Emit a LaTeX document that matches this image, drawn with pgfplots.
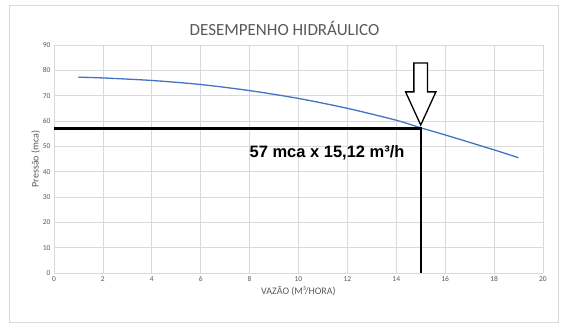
\documentclass[border=0pt]{standalone}
\usepackage{fontspec}
\setmainfont{Carlito}
\newfontfamily\arial{Liberation Sans}
\usepackage{pgfplots}
\pgfplotsset{compat=1.18}
\definecolor{curveblue}{RGB}{68,114,196}
\definecolor{gridgray}{RGB}{217,217,217}
\definecolor{txtgray}{RGB}{89,89,89}
\begin{document}
\begin{tikzpicture}
\begin{axis}[
  scale only axis,
  width=489pt, height=228pt,
  xmin=0, xmax=20, ymin=0, ymax=90,
  xtick={0,2,...,20}, ytick={0,10,...,90},
  grid=major,
  major grid style={gridgray, line width=0.6pt},
  axis line style={draw=none},
  x axis line style={draw=gridgray},
  tick style={draw=none},
  ticklabel style={font=\fontsize{7.5}{9}\selectfont, text=txtgray},
  /pgf/number format/assume math mode=true,
  xlabel={VAZÃO (M³/HORA)},
  ylabel={Pressão (mca)},
  label style={font=\fontsize{10}{12}\selectfont, text=txtgray},
  xlabel style={yshift=2pt},
  ylabel style={yshift=-4pt},
  title={DESEMPENHO HIDRÁULICO},
  title style={font=\fontsize{17}{19}\selectfont, text=txtgray, xshift=-14pt},
  clip=false,
]
\path[draw=gridgray, line width=0.6pt] (rel axis cs:-0.092,-0.215) rectangle (rel axis cs:1.031,1.176);
\path (rel axis cs:-0.1104,-0.2368) rectangle (rel axis cs:1.0491,1.1974);
\addplot[curveblue, line width=1.3pt, smooth] coordinates {
 (1,77.3) (2,77.0) (4,76.0) (6,74.4) (8,72.0) (10,68.9) (12,65.0) (14,60.3) (15,57.3) (16,54.5) (18,48.6) (19,45.5)};
\addplot[black, line width=2.4pt] coordinates {(0,57) (15,57) (15,0)};
\addplot[draw=black, fill=white, line width=1.3pt] coordinates {
 (14.72,82.9) (15.28,82.9) (15.28,71.5) (15.62,71.5) (15,58.4) (14.38,71.5) (14.72,71.5)} -- cycle;
\node[font=\arial\bfseries\fontsize{16.5}{18}\selectfont, text=black] at (axis cs:11.17,47.3) {57 mca x 15,12 m³/h};
\end{axis}
\end{tikzpicture}
\end{document}
